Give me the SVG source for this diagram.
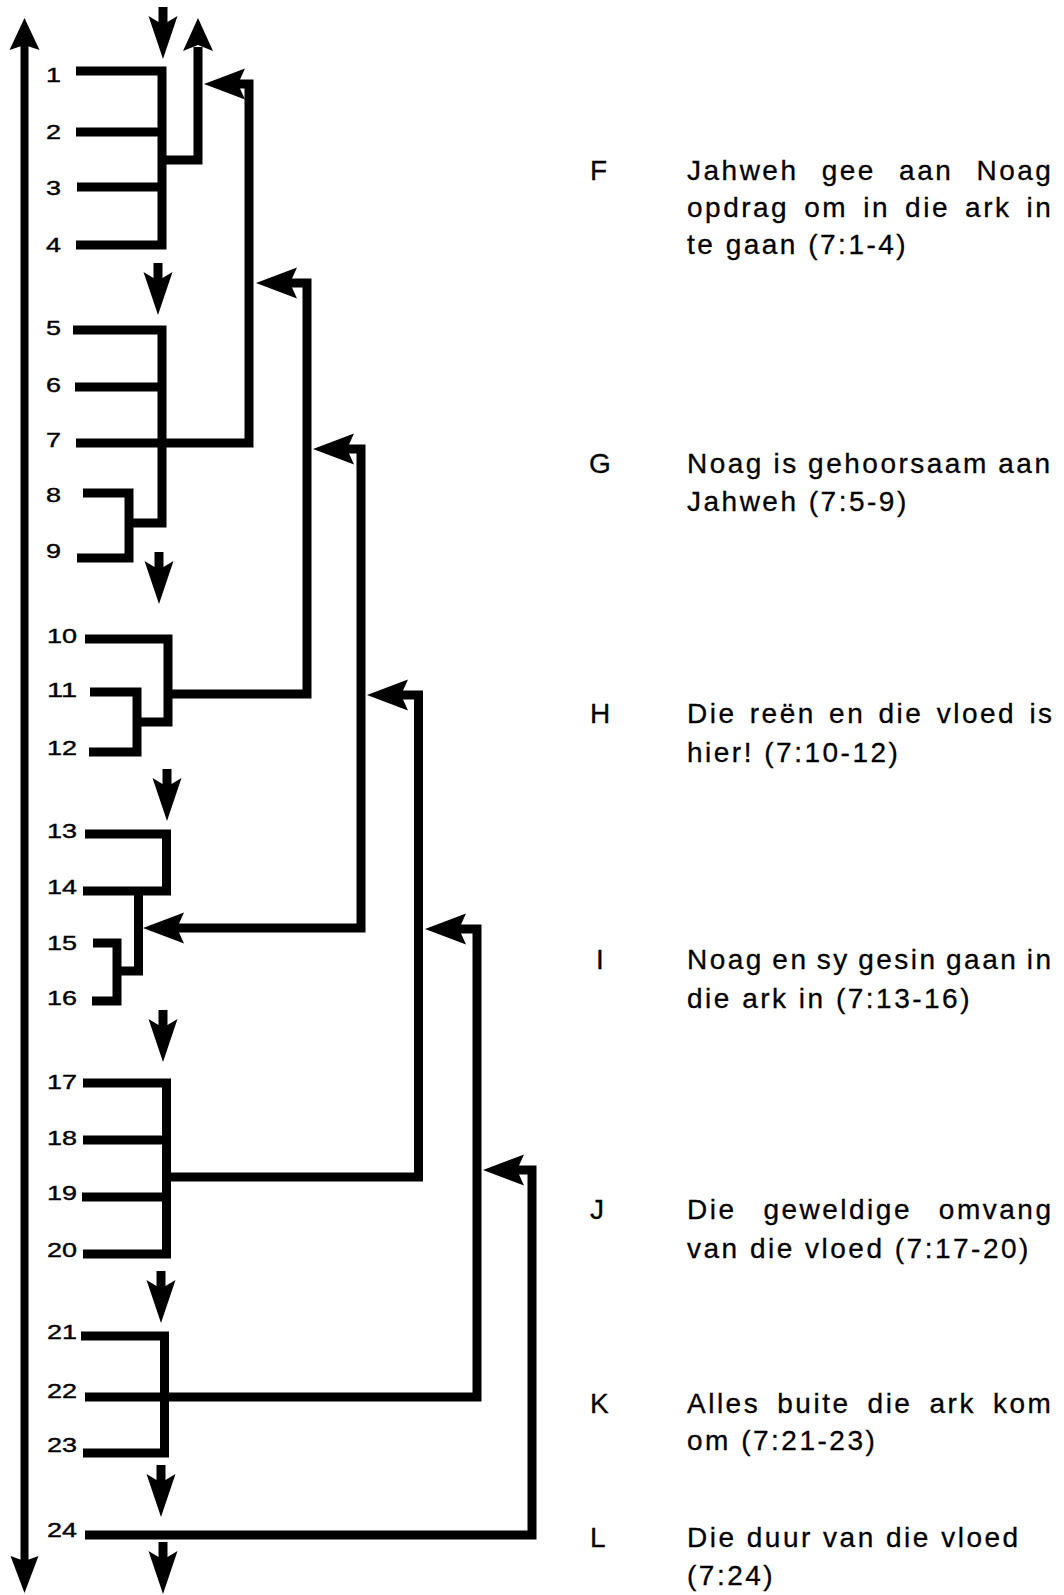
<svg xmlns="http://www.w3.org/2000/svg" width="1064" height="1595" viewBox="0 0 1064 1595">
<style>
.ln{fill:none;stroke:#000;stroke-width:9;stroke-linejoin:miter;stroke-linecap:butt}
.hd{fill:#000;stroke:none}
.num{font-family:"Liberation Sans",Arial,sans-serif;font-size:21px;fill:#000;stroke:#000;stroke-width:0.4}
.txt{font-family:"Liberation Sans",Arial,sans-serif;font-size:28px;letter-spacing:2.5px;fill:#000;stroke:#000;stroke-width:0.3}
.let{font-family:"Liberation Sans",Arial,sans-serif;font-size:28px;fill:#000;stroke:#000;stroke-width:0.3}
</style>
<defs>
<path id="dn" d="M-4.5,0 H4.5 V15 L14.5,9 L0,52 L-14.5,9 L-4.5,15 Z"/>
<path id="lh" d="M0,0 L41,-15.5 L34,0 L41,15.5 Z"/>
</defs>
<rect width="1064" height="1595" fill="#fff"/>

<g id="axis">
<rect x="20.5" y="44" width="8" height="1517" fill="#000"/>
<polygon class="hd" points="24.5,18 39.5,50 24.5,45 9.5,50"/>
<polygon class="hd" points="24.5,1593 38.5,1556 24.5,1561 10.5,1556"/>
</g>

<g id="group-1-4">
<text class="num" x="46" y="82" textLength="15" lengthAdjust="spacingAndGlyphs">1</text>
<text class="num" x="46" y="139" textLength="15" lengthAdjust="spacingAndGlyphs">2</text>
<text class="num" x="46" y="195" textLength="15" lengthAdjust="spacingAndGlyphs">3</text>
<text class="num" x="46" y="252" textLength="15" lengthAdjust="spacingAndGlyphs">4</text>
<path class="ln" d="M76 71 H162 V245 H76 M76 132 H162 M77 187 H162"/>
</g>

<g id="group-5-9">
<text class="num" x="46" y="335" textLength="15" lengthAdjust="spacingAndGlyphs">5</text>
<text class="num" x="46" y="392" textLength="15" lengthAdjust="spacingAndGlyphs">6</text>
<text class="num" x="46" y="447" textLength="15" lengthAdjust="spacingAndGlyphs">7</text>
<text class="num" x="46" y="502" textLength="15" lengthAdjust="spacingAndGlyphs">8</text>
<text class="num" x="46" y="558" textLength="15" lengthAdjust="spacingAndGlyphs">9</text>
<path class="ln" d="M73 330 H162 V523 H129 M75 387 H162 M76 443 H162 M83 493 H129 V558 H77"/>
</g>

<g id="group-10-12">
<text class="num" x="47" y="643" textLength="30" lengthAdjust="spacingAndGlyphs">10</text>
<text class="num" x="47" y="697" textLength="30" lengthAdjust="spacingAndGlyphs">11</text>
<text class="num" x="47" y="755" textLength="30" lengthAdjust="spacingAndGlyphs">12</text>
<path class="ln" d="M85 639 H168 V722 H137 M90 692 H137 V752 H89"/>
</g>

<g id="group-13-16">
<text class="num" x="47" y="838" textLength="30" lengthAdjust="spacingAndGlyphs">13</text>
<text class="num" x="47" y="894" textLength="30" lengthAdjust="spacingAndGlyphs">14</text>
<text class="num" x="47" y="950" textLength="30" lengthAdjust="spacingAndGlyphs">15</text>
<text class="num" x="47" y="1005" textLength="30" lengthAdjust="spacingAndGlyphs">16</text>
<path class="ln" d="M85 834 H166.5 V891 H83 M138.5 891 V971 H117 M93 943 H117 V1001 H92"/>
</g>

<g id="group-17-20">
<text class="num" x="47" y="1089" textLength="30" lengthAdjust="spacingAndGlyphs">17</text>
<text class="num" x="47" y="1145" textLength="30" lengthAdjust="spacingAndGlyphs">18</text>
<text class="num" x="47" y="1200" textLength="30" lengthAdjust="spacingAndGlyphs">19</text>
<text class="num" x="47" y="1257" textLength="30" lengthAdjust="spacingAndGlyphs">20</text>
<path class="ln" d="M83 1083 H166.5 V1254 H83 M83 1140 H166.5 M82 1197 H166.5"/>
</g>

<g id="group-21-23">
<text class="num" x="47" y="1339" textLength="30" lengthAdjust="spacingAndGlyphs">21</text>
<text class="num" x="47" y="1398" textLength="30" lengthAdjust="spacingAndGlyphs">22</text>
<text class="num" x="47" y="1452" textLength="30" lengthAdjust="spacingAndGlyphs">23</text>
<path class="ln" d="M81 1336 H164.5 V1453 H83 M85 1397 H164.5"/>
</g>

<g id="group-24">
<text class="num" x="47" y="1537" textLength="30" lengthAdjust="spacingAndGlyphs">24</text>
<path class="ln" d="M85 1535 H164"/>
</g>

<g id="section-F">
<text class="let" x="590" y="180">F</text>
<text class="txt" x="687" y="180" word-spacing="12.9">Jahweh gee aan Noag</text>
<text class="txt" x="687" y="217" word-spacing="4.8">opdrag om in die ark in</text>
<text class="txt" x="687" y="254">te gaan (7:1-4)</text>
</g>
<g id="section-G">
<text class="let" x="589" y="473">G</text>
<text class="txt" x="687" y="473" word-spacing="-0.8">Noag is gehoorsaam aan</text>
<text class="txt" x="687" y="511">Jahweh (7:5-9)</text>
</g>
<g id="section-H">
<text class="let" x="590" y="723">H</text>
<text class="txt" x="687" y="723" word-spacing="3">Die reën en die vloed is</text>
<text class="txt" x="687" y="762">hier! (7:10-12)</text>
</g>
<g id="section-I">
<text class="let" x="596" y="969">I</text>
<text class="txt" x="687" y="969" word-spacing="-1.9">Noag en sy gesin gaan in</text>
<text class="txt" x="687" y="1008">die ark in (7:13-16)</text>
</g>
<g id="section-J">
<text class="let" x="590" y="1219">J</text>
<text class="txt" x="687" y="1219" word-spacing="16.6">Die geweldige omvang</text>
<text class="txt" x="687" y="1258">van die vloed (7:17-20)</text>
</g>
<g id="section-K">
<text class="let" x="590" y="1413">K</text>
<text class="txt" x="687" y="1413" word-spacing="6.8">Alles buite die ark kom</text>
<text class="txt" x="687" y="1450">om (7:21-23)</text>
</g>
<g id="section-L">
<text class="let" x="590" y="1547">L</text>
<text class="txt" x="687" y="1547">Die duur van die vloed</text>
<text class="txt" x="687" y="1585">(7:24)</text>
</g>

<g id="connectors">
<use href="#dn" x="163" y="7"/>
<use href="#dn" x="158" y="263"/>
<use href="#dn" x="159" y="552"/>
<use href="#dn" x="167" y="769"/>
<use href="#dn" x="163" y="1010"/>
<use href="#dn" x="161" y="1271"/>
<use href="#dn" x="161" y="1465"/>
<use href="#dn" x="163" y="1542"/>
<path class="ln" d="M162 160 H198 V47"/>
<polygon class="hd" points="198,18 213,51 198,45 183,51"/>
<path class="ln" d="M162 443 H249 V84 H238"/>
<use href="#lh" x="204" y="84"/>
<path class="ln" d="M168 694 H307 V283 H290"/>
<use href="#lh" x="256" y="283"/>
<path class="ln" d="M177 928 H361 V449 H347"/>
<use href="#lh" x="313" y="449"/>
<use href="#lh" x="143" y="928"/>
<path class="ln" d="M166.5 1177 H418.5 V695 H401"/>
<use href="#lh" x="367" y="695"/>
<path class="ln" d="M164.5 1397 H477 V929 H459"/>
<use href="#lh" x="425" y="929"/>
<path class="ln" d="M164 1535 H532 V1170 H517"/>
<use href="#lh" x="483" y="1170"/>
</g>
</svg>
